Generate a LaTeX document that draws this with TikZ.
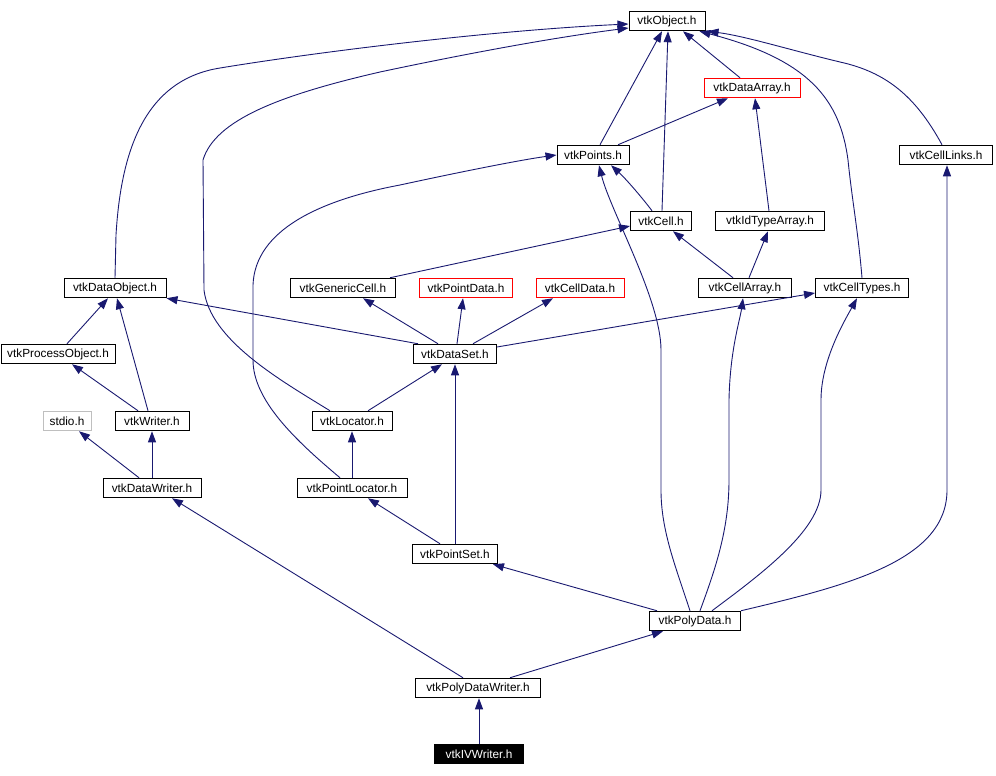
\documentclass[tikz,border=0pt]{standalone}
\usepackage{fontspec}
\setmainfont{Liberation Sans}
\usetikzlibrary{arrows.meta}
\definecolor{edgeblue}{RGB}{25,25,112}
\definecolor{stdgray}{RGB}{191,191,191}
\tikzset{
  box/.style={draw=black, line width=1pt, fill=white, rectangle, minimum height=19.5pt, inner sep=0pt, font=\fontsize{11.8pt}{13pt}\selectfont, text=black},
  redbox/.style={box, draw=red},
  graybox/.style={box, draw=stdgray},
  rootbox/.style={box, fill=black, text=white},
  edge/.style={draw=edgeblue, line width=0.9pt, -{Triangle[length=11pt,width=8pt]}},
}
\begin{document}
\begin{tikzpicture}[x=1pt,y=-1pt]
\useasboundingbox (0,0) rectangle (996,776);
\path
  (667,21)  node[box, minimum width=76pt] (obj) {vtkObject.h}
  (752,88)  node[redbox, minimum width=96pt] (dataarray) {vtkDataArray.h}
  (593,155) node[box, minimum width=72pt] (points) {vtkPoints.h}
  (946,155) node[box, minimum width=93pt] (celllinks) {vtkCellLinks.h}
  (661,221) node[box, minimum width=61pt] (cell) {vtkCell.h}
  (770,221) node[box, minimum width=109pt] (idtype) {vtkIdTypeArray.h}
  (115,288) node[box, minimum width=102pt] (dataobject) {vtkDataObject.h}
  (343,288) node[box, minimum width=105pt] (generic) {vtkGenericCell.h}
  (466,288) node[redbox, minimum width=93pt] (pointdata) {vtkPointData.h}
  (580,288) node[redbox, minimum width=88pt] (celldata) {vtkCellData.h}
  (745,288) node[box, minimum width=93pt] (cellarray) {vtkCellArray.h}
  (862,288) node[box, minimum width=93pt] (celltypes) {vtkCellTypes.h}
  (58,354)  node[box, minimum width=114pt] (procobj) {vtkProcessObject.h}
  (455,354) node[box, minimum width=83pt] (dataset) {vtkDataSet.h}
  (67,421)  node[graybox, minimum width=48pt] (stdio) {stdio.h}
  (152,421) node[box, minimum width=74pt] (writer) {vtkWriter.h}
  (352,421) node[box, minimum width=80pt] (locator) {vtkLocator.h}
  (152,488) node[box, minimum width=98pt] (datawriter) {vtkDataWriter.h}
  (352,488) node[box, minimum width=110pt] (pointlocator) {vtkPointLocator.h}
  (455,554) node[box, minimum width=85pt] (pointset) {vtkPointSet.h}
  (695,621) node[box, minimum width=91pt] (polydata) {vtkPolyData.h}
  (478,688) node[box, minimum width=125pt] (pdwriter) {vtkPolyDataWriter.h}
  (479,754) node[rootbox, minimum width=89pt] (ivwriter) {vtkIVWriter.h};

% connectors
\draw[edge] (dataobject.north) -- (116,235) .. controls (121,150) and (145,80) .. (220,68) .. controls (330,50) and (500,30) .. ([yshift=-3pt]obj.west);
\draw[edge] ([xshift=-22pt]locator.north) .. controls (280,380) and (210,340) .. (204,290) -- (203,160) .. controls (215,120) and (280,95) .. (380,72) .. controls (460,55) and (550,38) .. ([yshift=-7pt]obj.west);
\draw[edge] ([xshift=7pt]points.north) -- ([xshift=-5pt]obj.south);
\draw[edge] ([xshift=1pt]cell.north) -- ([xshift=1pt]obj.south);
\draw[edge] ([xshift=-12pt]dataarray.north) -- ([xshift=16pt]obj.south);
\draw[edge] (celltypes.north) .. controls (858,230) and (852,200) .. (848,160) .. controls (840,100) and (810,60) .. ([xshift=-6pt]obj.south east);
\draw[edge] ([xshift=-4pt]celllinks.north) .. controls (915,95) and (885,72) .. (840,62) .. controls (790,50) and (745,36) .. ([xshift=2pt]obj.south east);
\draw[edge] ([xshift=25pt]points.north) -- ([xshift=-24pt]dataarray.south);
\draw[edge] ([xshift=-1pt]idtype.north) -- ([xshift=3pt]dataarray.south);
\draw[edge] ([xshift=-9pt]cell.north) .. controls (640,195) and (625,178) .. ([xshift=18pt]points.south);
\draw[edge] ([xshift=-5pt]polydata.north) .. controls (675,565) and (661,530) .. (661,490) -- (661,350) .. controls (661,300) and (610,210) .. ([xshift=6pt]points.south);
\draw[edge] ([xshift=-12pt]cellarray.north) -- ([xshift=12pt]cell.south);
\draw[edge] ([xshift=4pt]cellarray.north) -- ([xshift=-2pt]idtype.south);
\draw[edge] ([xshift=47pt]generic.north) -- ([yshift=-5pt]cell.west);
\draw[edge] ([xshift=5pt]polydata.north) .. controls (715,570) and (729,530) .. (729,480) -- (729,400) .. controls (730,350) and (740,320) .. ([xshift=-2pt]cellarray.south);
\draw[edge] ([xshift=17pt]polydata.north) .. controls (760,575) and (821,530) .. (821,490) -- (821,400) .. controls (821,360) and (845,320) .. ([xshift=-5pt]celltypes.south);
\draw[edge] (polydata.north east) .. controls (850,585) and (947,560) .. (947,490) -- ([xshift=1pt]celllinks.south);
\draw[edge] ([xshift=-37pt]dataset.north) -- (dataobject.south east);
\draw[edge] ([xshift=-17pt]dataset.north) -- ([xshift=20pt]generic.south);
\draw[edge] ([xshift=2pt]dataset.north) -- ([xshift=-3pt]pointdata.south);
\draw[edge] ([xshift=18pt]dataset.north) -- ([xshift=-27pt]celldata.south);
\draw[edge] ([yshift=7pt]dataset.east) -- ([yshift=-5pt]celltypes.west);
\draw[edge] ([xshift=9pt]procobj.north) -- ([xshift=-7pt]dataobject.south);
\draw[edge] ([xshift=-4pt]writer.north) -- ([xshift=2pt]dataobject.south);
\draw[edge] ([xshift=-14pt]writer.north) -- ([xshift=14pt]procobj.south);
\draw[edge] ([xshift=16pt]locator.north) -- ([xshift=-13pt]dataset.south);
\draw[edge] ([xshift=-13pt]datawriter.north) -- ([xshift=12pt]stdio.south);
\draw[edge] (datawriter.north) -- (writer.south);
\draw[edge] (pointlocator.north) -- (locator.south);
\draw[edge] ([xshift=-12pt]pointlocator.north) .. controls (295,440) and (253,400) .. (253,360) -- (253,285) .. controls (255,230) and (320,200) .. (400,185) .. controls (460,172) and (520,160) .. (points.west);
\draw[edge] ([xshift=-15pt]pointset.north) -- ([xshift=16pt]pointlocator.south);
\draw[edge] (pointset.north) -- (dataset.south);
\draw[edge] ([xshift=-38pt]polydata.north) -- ([xshift=38pt]pointset.south);
\draw[edge] ([xshift=32pt]pdwriter.north) -- ([xshift=-32pt]polydata.south);
\draw[edge] ([xshift=-15pt]pdwriter.north) -- ([xshift=20pt]datawriter.south);
\draw[edge] (ivwriter.north) -- ([xshift=1pt]pdwriter.south);
\end{tikzpicture}
\end{document}
